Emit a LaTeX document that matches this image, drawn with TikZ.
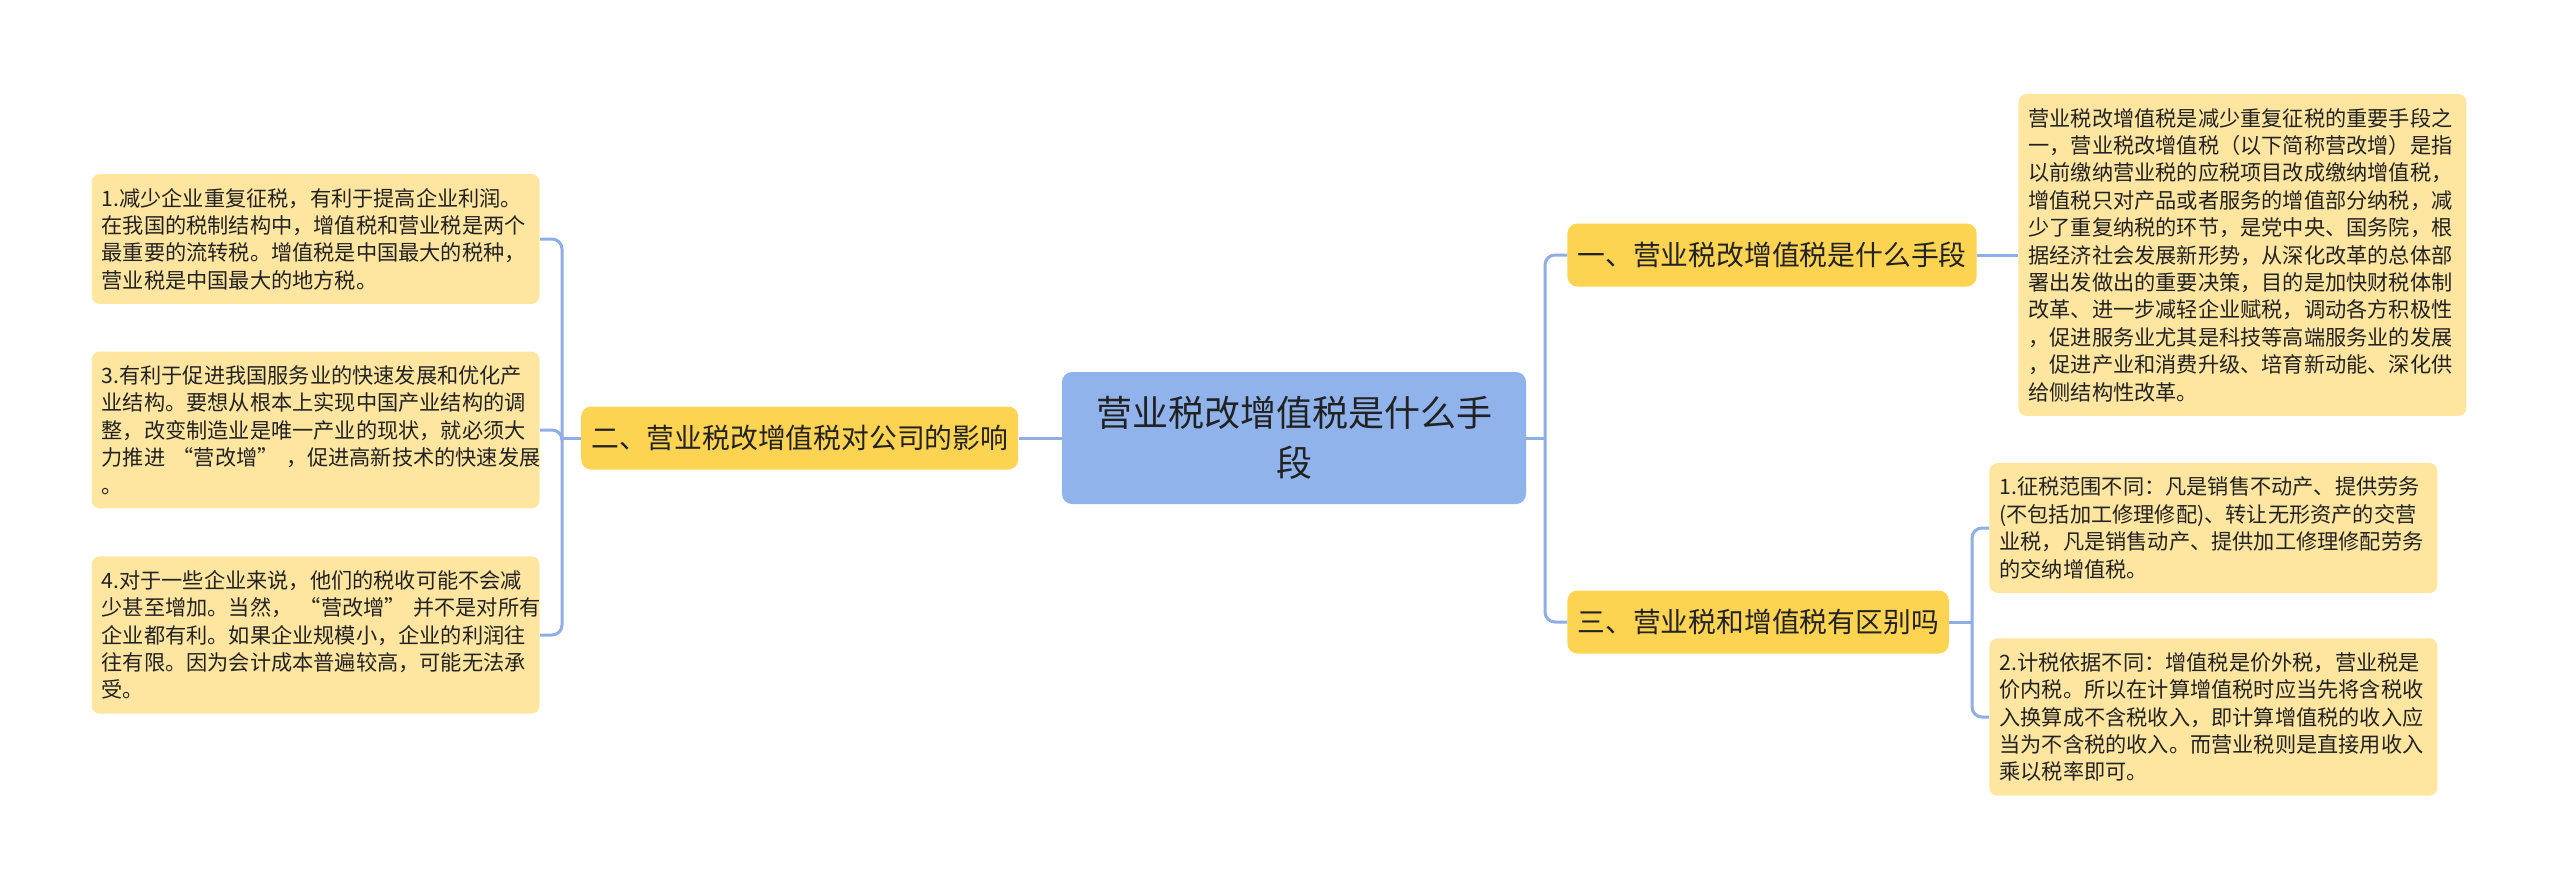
\documentclass[tikz,border=0pt]{standalone}
\usepackage{fontspec}
\usepackage{tikz}
\usetikzlibrary{positioning}
\newfontfamily\cjk{Noto Sans CJK SC}
\newcommand{\oq}{\kern0.35em“}
\newcommand{\cq}{”\kern0.35em}

\definecolor{rootblue}{HTML}{8FB3EA}
\definecolor{branchyellow}{HTML}{FDD352}
\definecolor{leafyellow}{HTML}{FEE6A1}
\definecolor{linkblue}{HTML}{8EAEE5}
\definecolor{txtdark}{HTML}{222222}

\tikzset{
  rootnode/.style={rectangle, rounded corners=5pt, fill=rootblue, text=txtdark,
    font=\cjk\fontsize{18pt}{25pt}\selectfont, align=center, text width=205pt,
    minimum width=232pt, minimum height=66pt, inner sep=0pt},
  branchnode/.style={rectangle, rounded corners=5pt, fill=branchyellow, text=txtdark,
    font=\cjk\fontsize{13.9pt}{16pt}\selectfont, minimum height=31.5pt, inner xsep=5pt},
  leafnode/.style={rectangle, rounded corners=4pt, fill=leafyellow, text=txtdark,
    font=\cjk\fontsize{10.6pt}{13.7pt}\selectfont, align=left, text width=214pt,
    inner xsep=5pt, inner ysep=7pt},
  link/.style={draw=linkblue, line width=1.5pt, rounded corners=5pt}
}

\begin{document}
\begin{tikzpicture}[x=0.5pt, y=-0.5pt]
      \useasboundingbox (0,0) rectangle (2560,890);
      % Nodes
      % root and main topics
      \node[rootnode] (root) at (1294,438) {营业税改增值税是什么手\\段};
      \node[branchnode, left=21.5pt of root] (impact) {二、营业税改增值税对公司的影响};
      \node[branchnode, anchor=west] (what) at (1567,255) {一、营业税改增值税是什么手段};
      \node[branchnode, anchor=west] (diff) at (1567,622) {三、营业税和增值税有区别吗};
      % details
      \node[leafnode, right=20.5pt of what] (whatinfo) {营业税改增值税是减少重复征税的重要手段之\\一，营业税改增值税（以下简称营改增）是指\\以前缴纳营业税的应税项目改成缴纳增值税，\\增值税只对产品或者服务的增值部分纳税，减\\少了重复纳税的环节，是党中央、国务院，根\\据经济社会发展新形势，从深化改革的总体部\\署出发做出的重要决策，目的是加快财税体制\\改革、进一步减轻企业赋税，调动各方积极性\\，促进服务业尤其是科技等高端服务业的发展\\，促进产业和消费升级、培育新动能、深化供\\给侧结构性改革。};
      \node[leafnode, anchor=west] (scope) at (1989,528) {1.征税范围不同：凡是销售不动产、提供劳务\\(不包括加工修理修配)、转让无形资产的交营\\业税，凡是销售动产、提供加工修理修配劳务\\的交纳增值税。};
      \node[leafnode, anchor=west] (basis) at (1989,717) {2.计税依据不同：增值税是价外税，营业税是\\价内税。所以在计算增值税时应当先将含税收\\入换算成不含税收入，即计算增值税的收入应\\当为不含税的收入。而营业税则是直接用收入\\乘以税率即可。};
      \node[leafnode, anchor=east] (profit) at (540,239) {1.减少企业重复征税，有利于提高企业利润。\\在我国的税制结构中，增值税和营业税是两个\\最重要的流转税。增值税是中国最大的税种，\\营业税是中国最大的地方税。};
      \node[leafnode, anchor=east] (service) at (540,430) {3.有利于促进我国服务业的快速发展和优化产\\业结构。要想从根本上实现中国产业结构的调\\整，改变制造业是唯一产业的现状，就必须大\\力推进\oq 营改增\cq ，促进高新技术的快速发展\\。};
      \node[leafnode, anchor=east] (burden) at (540,635) {4.对于一些企业来说，他们的税收可能不会减\\少甚至增加。当然，\oq 营改增\cq 并不是对所有\\企业都有利。如果企业规模小，企业的利润往\\往有限。因为会计成本普遍较高，可能无法承\\受。};
      % bus points
      \coordinate (lbus) at (562,438);
      \coordinate (rbus) at (1545,438);
      \coordinate (dbus) at (1972,622);
      % edges
      \draw[link] (root.west) -- (impact.east);
      \draw[link] (impact.west) -- (lbus);
      \draw[link] (profit.east) -| (lbus);
      \draw[link] (service.east) -| (lbus);
      \draw[link] (burden.east) -| (lbus);
      \draw[link] (root.east) -- (rbus);
      \draw[link] (rbus) |- (what.west);
      \draw[link] (rbus) |- (diff.west);
      \draw[link] (what.east) -- (whatinfo.west);
      \draw[link] (diff.east) -- (dbus);
      \draw[link] (dbus) |- (scope.west);
      \draw[link] (dbus) |- (basis.west);
\end{tikzpicture}
\end{document}
